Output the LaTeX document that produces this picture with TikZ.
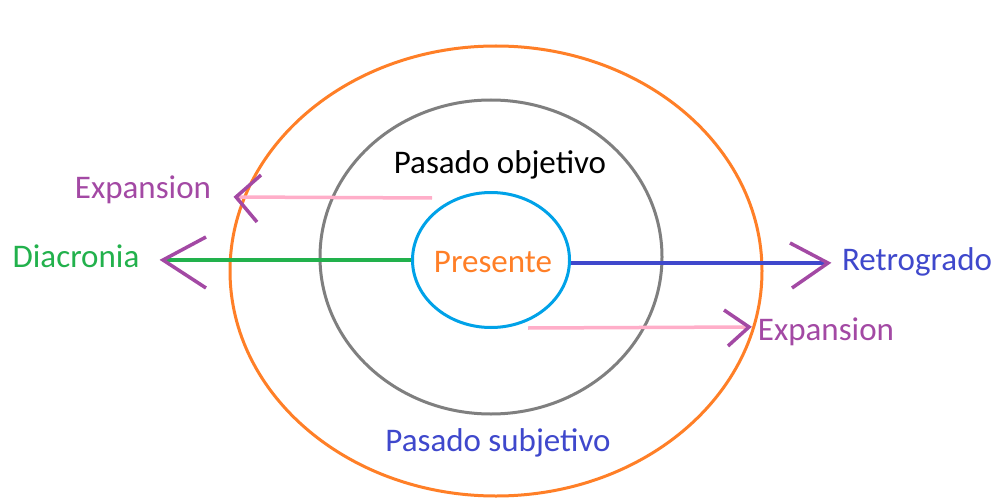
\documentclass[tikz,border=0pt]{standalone}
\usepackage{fontspec}
\setmainfont{Carlito}
\usetikzlibrary{shapes.geometric,calc}
\definecolor{corange}{HTML}{FF7F27}
\definecolor{cgray}{HTML}{7F7F7F}
\definecolor{ccyan}{HTML}{00A2E8}
\definecolor{cgreen}{HTML}{22B14C}
\definecolor{cblue}{HTML}{3F48CC}
\definecolor{cpurple}{HTML}{A349A4}
\definecolor{cpink}{HTML}{FFAEC9}
\begin{document}
\begin{tikzpicture}[x=1pt,y=-1pt,
  ring/.style={ellipse,draw,line width=3pt,inner sep=0pt},
  lbl/.style={anchor=base,inner sep=0pt,font=\fontsize{33}{40}\selectfont},
  axis/.style={line width=3.5pt},
  head/.style={draw=cpurple,line width=3.5pt}]
\useasboundingbox (0,0) rectangle (998,500);
\fill[white] (0,0) rectangle (998,500);
\node[ring,draw=corange,minimum width=532pt,minimum height=450pt] (outer) at (496,271) {};
\node[ring,draw=cgray,minimum width=342pt,minimum height=314pt] (mid) at (491,257) {};
\node[ring,draw=ccyan,minimum width=157pt,minimum height=135pt] (inner) at (491,260) {};
\node[lbl] (tobj) at (500,173) {Pasado objetivo};
\node[lbl,text=corange] (tpres) at (493,272) {Presente};
\node[lbl,text=cblue] (tsub) at (498,451) {Pasado subjetivo};
\node[lbl,text=cpurple] (texp1) at (143,198) {Expansion};
\node[lbl,text=cgreen] (tdia) at (76,267) {Diacronia};
\node[lbl,text=cblue] (tret) at (917,270) {Retrogrado};
\node[lbl,text=cpurple] (texp2) at (826,340) {Expansion};
% coordinates
\coordinate (dia) at (163,260);
\coordinate (ret) at (828,263);
\coordinate (e1s) at (432,198);
\coordinate (e1) at (236,197);
\coordinate (e2s) at (528,328);
\coordinate (e2) at (749,327);
% lines
\draw[axis,cgreen] (inner.west) -- (dia);
\draw[axis,cblue] (inner.east |- ret) -- (ret);
\draw[axis,cpink] (e1s) -- (e1);
\draw[axis,cpink] (e2s) -- (e2);
% heads
\draw[head] ($(dia)+(43,-23)$) -- (dia) -- ($(dia)+(43,28)$);
\draw[head] ($(ret)+(-38,-20)$) -- (ret) -- ($(ret)+(-36,25)$);
\draw[head] ($(e1)+(25,-22)$) -- (e1) -- ($(e1)+(21,25)$);
\draw[head] ($(e2)+(-25,-17)$) -- (e2) -- ($(e2)+(-21,19)$);
\end{tikzpicture}
\end{document}
